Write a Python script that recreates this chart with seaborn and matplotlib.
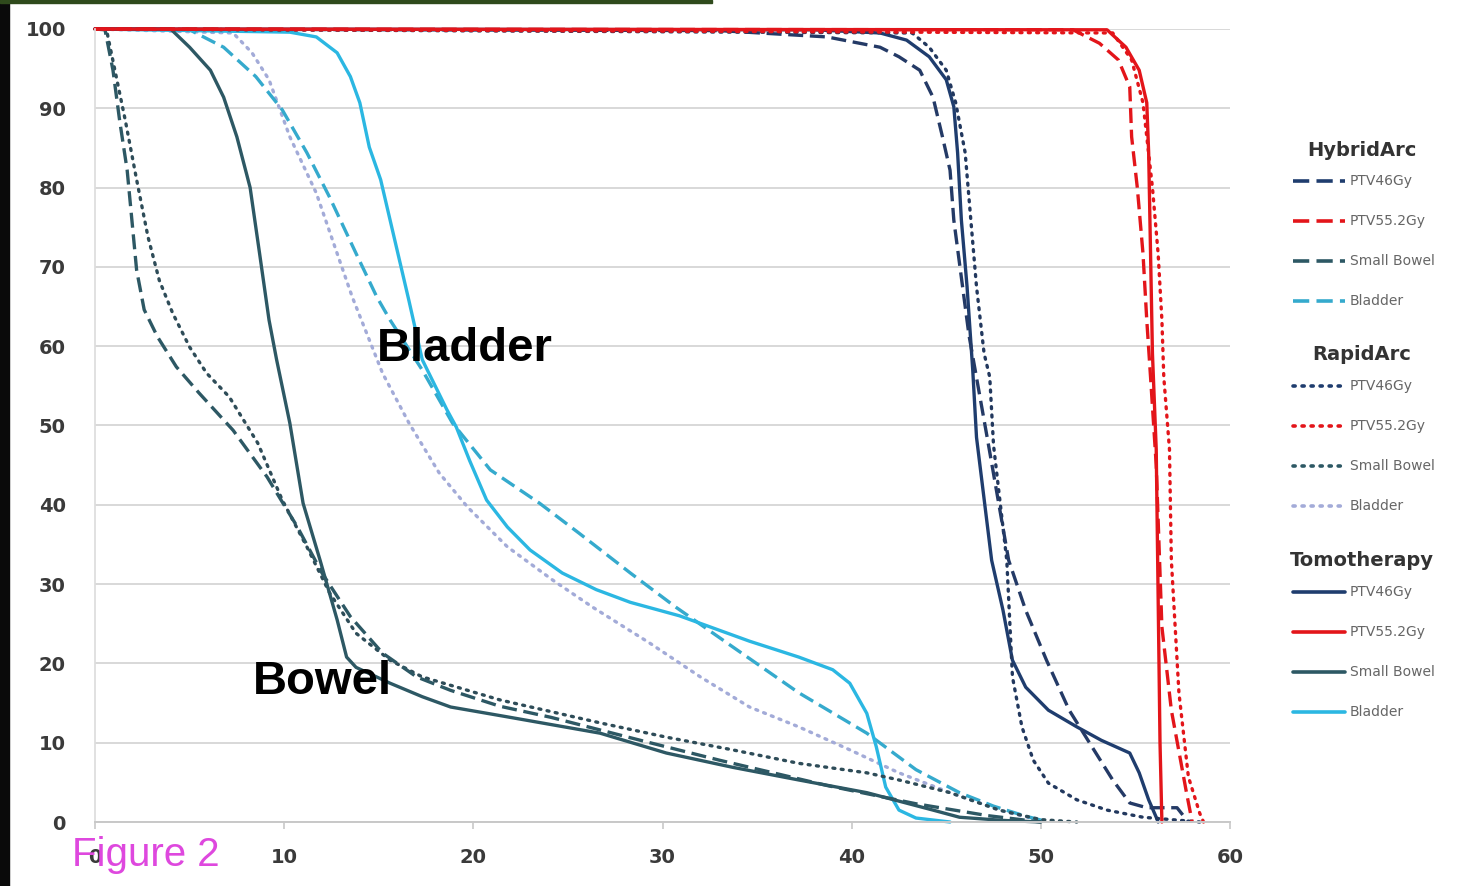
import numpy as np
import pandas as pd
import matplotlib.pyplot as plt
import seaborn as sns
from matplotlib.lines import Line2D
from matplotlib.patches import Rectangle

# DVH data: dose (Gy) vs volume (%)
# Tomotherapy (solid)
tomo_ptv46_x = [0, 38.0, 41.5, 42.9, 44.1, 45.0, 45.4, 45.6, 45.8, 46.1, 46.4, 46.6, 47.4, 48.0, 48.5, 49.2, 50.4, 51.9, 53.2, 54.7, 55.2, 55.7, 56.1, 56.2]
tomo_ptv46_y = [100, 99.9, 99.5, 98.6, 96.5, 93.6, 90.2, 84.4, 75.9, 67.5, 57, 48.5, 33, 26.7, 20.4, 17, 14.1, 12, 10.3, 8.7, 6.2, 2.8, 0.6, 0]
tomo_ptv55_x = [0, 53.5, 54.5, 55.2, 55.6, 55.7, 55.8, 55.9, 56.1, 56.3, 56.4]
tomo_ptv55_y = [100, 99.9, 97.7, 94.8, 90.7, 84.4, 71.7, 59.1, 47, 10, 0]
tomo_bowel_x = [0, 4.0, 5.0, 6.1, 6.8, 7.5, 8.2, 8.7, 9.2, 9.6, 10.3, 11.0, 11.9, 12.8, 13.3, 13.8, 15.6, 17.3, 18.8, 21.7, 26.7, 30.2, 33.7, 37.2, 40.8, 44.3, 45.7, 48.0, 50.0]
tomo_bowel_y = [100, 100, 97.7, 94.8, 91.4, 86.4, 80, 71.7, 63.3, 58.3, 50.3, 40.2, 33, 25.5, 20.8, 19.5, 17.5, 15.8, 14.5, 13.3, 11.2, 8.7, 6.9, 5.3, 3.7, 1.5, 0.6, 0.2, 0]
tomo_bladder_x = [0, 10.3, 11.7, 12.8, 13.5, 14.0, 14.5, 15.1, 15.6, 16.6, 17.3, 18.6, 19.1, 19.8, 20.7, 21.8, 23.0, 24.7, 26.5, 28.3, 30.9, 34.6, 37.2, 39.0, 39.9, 40.8, 41.3, 41.8, 42.5, 43.4, 45.2]
tomo_bladder_y = [100, 99.6, 99, 97, 94, 90.7, 85.1, 81, 75.9, 65.7, 58.3, 52, 49.8, 45.6, 40.6, 37.2, 34.3, 31.4, 29.3, 27.7, 26.0, 22.8, 20.8, 19.2, 17.5, 13.7, 9.5, 4.4, 1.5, 0.5, 0]

# HybridArc (dashed)
hyb_ptv46_x = [0, 33.0, 38.7, 41.5, 42.5, 43.6, 44.3, 44.8, 45.2, 45.4, 46.2, 47.2, 48.3, 49.2, 50.3, 51.5, 52.7, 53.8, 54.7, 55.6, 57.2, 57.8]
hyb_ptv46_y = [100, 99.8, 99, 97.7, 96.5, 94.8, 91.4, 86.4, 82.2, 75.9, 61.4, 48, 33, 26.7, 20.4, 14.1, 9.5, 5.3, 2.4, 1.8, 1.8, 0]
hyb_ptv55_x = [0, 51.7, 53.1, 54.1, 54.7, 54.8, 55.1, 55.4, 55.6, 55.8, 56.1, 56.4, 56.9, 57.7, 58.0]
hyb_ptv55_y = [100, 99.9, 98.2, 96.1, 92.7, 86.4, 80, 71.7, 63.3, 56.1, 45, 24.6, 14.1, 3.7, 0]
hyb_bowel_x = [0, 0.53, 0.95, 1.3, 1.7, 1.95, 2.2, 2.6, 3.3, 4.3, 5.5, 7.3, 9.1, 10.7, 12.0, 13.5, 15.2, 17.0, 18.8, 21.4, 24.1, 29.0, 33.0, 38.7, 43.4, 47.2, 50.0]
hyb_bowel_y = [100, 99.9, 94.8, 88.5, 82.2, 75.9, 69.6, 64.6, 61.2, 57.4, 54.1, 49.4, 43.5, 37.2, 31.4, 25.9, 21.3, 18.3, 16.6, 14.6, 13.2, 10.2, 7.8, 4.6, 2.3, 0.8, 0]
hyb_bladder_x = [0, 5.0, 6.8, 8.5, 9.9, 11.2, 12.4, 13.8, 14.9, 15.6, 17.3, 18.9, 20.9, 23.5, 25.6, 28.3, 30.7, 33.7, 37.2, 40.8, 43.4, 45.7, 47.5, 49.1, 50.4]
hyb_bladder_y = [100, 99.9, 97.7, 94, 89.8, 84.4, 78.8, 71.7, 66.2, 63.3, 57, 50.3, 44.4, 40.2, 36.4, 31.4, 27.1, 22.1, 16.3, 11.2, 6.6, 3.7, 2.0, 0.8, 0]

# RapidArc (dotted)
rap_ptv46_x = [0, 43.2, 44.1, 45.0, 45.5, 46.0, 46.3, 46.6, 47.0, 47.3, 47.5, 48.2, 48.5, 49.0, 49.6, 50.4, 51.9, 53.5, 55.4, 58.4]
rap_ptv46_y = [100, 99.5, 97.7, 94.8, 90.7, 84.4, 75.9, 67.5, 59.1, 56.1, 47.5, 33, 18.3, 12, 7.8, 4.9, 2.8, 1.5, 0.6, 0]
rap_ptv55_x = [0, 53.8, 54.8, 55.4, 55.9, 56.2, 56.4, 56.5, 56.8, 56.9, 57.3, 57.8, 58.4, 58.6]
rap_ptv55_y = [100, 99.5, 96.1, 90.7, 80, 71.7, 63.3, 56.1, 47, 33, 16.3, 5.7, 1.1, 0]
rap_bowel_x = [0, 0.6, 1.6, 2.2, 2.8, 3.4, 4.1, 5.0, 5.9, 7.1, 8.6, 9.9, 11.2, 12.4, 13.8, 15.6, 17.3, 21.4, 26.7, 30.2, 33.7, 37.2, 40.8, 42.5, 45.2, 47.8, 50.0, 51.9]
rap_bowel_y = [100, 100, 88.5, 81, 73.8, 68.3, 64.2, 59.9, 56.6, 53.6, 47.8, 40.6, 34.7, 28.9, 23.8, 20.4, 18.3, 15.4, 12.5, 10.7, 9.1, 7.4, 6.2, 5.3, 3.7, 1.5, 0.3, 0]
rap_bladder_x = [0, 7.3, 8.3, 9.2, 10.3, 11.7, 12.8, 13.6, 14.5, 15.2, 16.6, 18.2, 19.7, 21.8, 24.2, 26.3, 29.3, 32.0, 34.6, 37.2, 39.9, 42.5, 45.2, 48.1, 50.0]
rap_bladder_y = [100, 99.5, 97, 93.6, 86.4, 79.3, 71.7, 66.2, 60.8, 56.6, 50.3, 44, 39.7, 34.7, 30.5, 27.1, 22.6, 18.3, 14.5, 12.0, 9.1, 6.2, 3.7, 1.3, 0.2]

structures = ["PTV46Gy", "PTV55.2Gy", "Small Bowel", "Bladder"]
x_ticks = [0, 10, 20, 30, 40, 50, 60]
y_ticks = [0, 10, 20, 30, 40, 50, 60, 70, 80, 90, 100]

c_navy = "#1f3d6e"
c_red = "#e3151a"
c_teal = "#2d5864"
c_cyan = "#2bb7e2"

DASH = (0, (4.5, 2.0))
DOT = (0, (0.6, 1.9))

sns.set_theme(style="white")
plt.rcParams["font.family"] = ["DejaVu Sans"]

fig = plt.figure(figsize=(14.66, 8.86), dpi=100)
ax = fig.add_axes([95 / 1466, 1 - 822 / 886, (1230 - 95) / 1466, (822 - 29) / 886])


def draw(x, y, color, ls, lw=2.4):
    d = pd.DataFrame({"dose": x, "vol": y})
    sns.lineplot(data=d, x="dose", y="vol", ax=ax, color=color, linestyle=ls,
                 lw=lw, sort=False, estimator=None, clip_on=False,
                 dash_capstyle="round" if ls is DOT else "butt",
                 solid_joinstyle="round")


# organs first
draw(rap_bladder_x, rap_bladder_y, "#a3abd8", DOT)
draw(hyb_bladder_x, hyb_bladder_y, "#35aacd", DASH)
draw(tomo_bladder_x, tomo_bladder_y, c_cyan, "-")
draw(rap_bowel_x, rap_bowel_y, "#2e4c58", DOT)
draw(hyb_bowel_x, hyb_bowel_y, c_teal, DASH)
draw(tomo_bowel_x, tomo_bowel_y, c_teal, "-")
# targets
draw(tomo_ptv46_x, tomo_ptv46_y, c_navy, "-")
draw(rap_ptv46_x, rap_ptv46_y, "#22385e", DOT)
draw(hyb_ptv46_x, hyb_ptv46_y, "#243a66", DASH)
draw(tomo_ptv55_x, tomo_ptv55_y, c_red, "-")
draw(rap_ptv55_x, rap_ptv55_y, c_red, DOT)
draw(hyb_ptv55_x, hyb_ptv55_y, c_red, DASH)

ax.set_xlim(0, 60)
ax.set_ylim(0, 100)
ax.set_xticks(x_ticks)
ax.set_yticks(y_ticks)
ax.set_xlabel("")
ax.set_ylabel("")
ax.yaxis.grid(True, color="#d8d8d8", lw=1.4)
ax.set_axisbelow(True)
for s in ["top", "right"]:
    ax.spines[s].set_visible(False)
ax.spines["left"].set_color("#dddddd")
ax.spines["bottom"].set_color("#c8c8c8")
ax.spines["bottom"].set_linewidth(1.4)
ax.tick_params(axis="y", length=5, color="#d8d8d8", width=1.4, pad=16,
               labelsize=14, labelcolor="#3a3a3a")
ax.tick_params(axis="x", length=5, color="#c8c8c8", width=1.2, pad=14,
               labelsize=14, labelcolor="#3a3a3a", bottom=True)
for lab in ax.get_xticklabels() + ax.get_yticklabels():
    lab.set_fontweight("bold")

# annotations
ax.text(14.9, 59.7, "Bladder", fontsize=34, fontweight="bold", color="black",
        family="Liberation Sans", va="center", ha="left")
ax.text(8.35, 17.6, "Bowel", fontsize=34, fontweight="bold", color="black",
        family="Liberation Sans", va="center", ha="left")
fig.text(72 / 1466, 1 - 855 / 886, "Figure 2", fontsize=29, color="#de48de",
         family="Liberation Sans", va="center", ha="left")

# legend drawn by hand, three groups
groups = [("HybridArc", DASH, 150, [c_navy, c_red, c_teal, "#35aacd"]),
          ("RapidArc", DOT, 355, [c_navy, c_red, c_teal, "#a3abd8"]),
          ("Tomotherapy", "-", 561, [c_navy, c_red, c_teal, c_cyan])]
for title, ls, ty, cols in groups:
    fig.text(1362 / 1466, 1 - ty / 886, title, fontsize=14, fontweight="bold",
             color="#333333", ha="center", va="center")
    for i, (name, col) in enumerate(zip(structures, cols)):
        yy = 1 - (ty + 31 + 40 * i) / 886
        fig.add_artist(Line2D([1293 / 1466, 1345 / 1466], [yy, yy], color=col,
                              lw=2.6, linestyle=ls, transform=fig.transFigure,
                              dash_capstyle="round" if ls is DOT else "butt"))
        fig.text(1350 / 1466, yy, name, fontsize=10, color="#666666",
                 ha="left", va="center")

# slide edge around the chart
fig.add_artist(Rectangle((0, 0), 9 / 1466, 1, transform=fig.transFigure,
                         color="#0a0a0a", zorder=-1))
fig.add_artist(Rectangle((0, 1 - 3 / 886), 712 / 1466, 3 / 886,
                         transform=fig.transFigure, color="#2f4a1c", zorder=-1))

fig.savefig("out.png", dpi=100)
